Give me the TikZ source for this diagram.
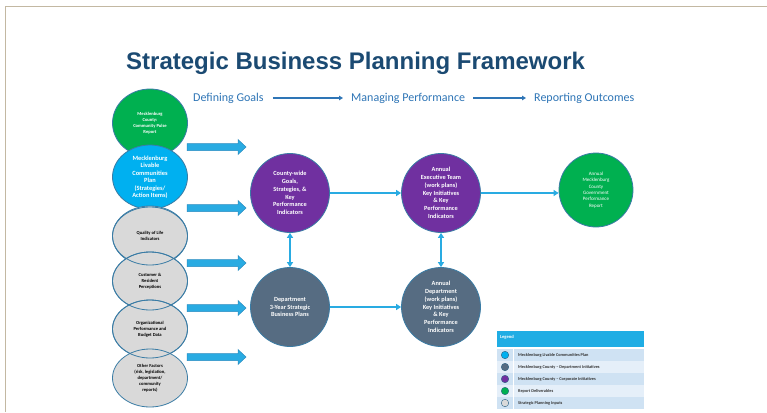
\documentclass[tikz,border=0pt]{standalone}
\usepackage{fontspec}
\setmainfont{Carlito}
\newfontfamily\titlefont{Liberation Sans}
\usetikzlibrary{arrows.meta,shapes.geometric}
\definecolor{titleblue}{HTML}{1B4A72}
\definecolor{subblue}{HTML}{2E75B6}
\definecolor{arrowblue}{HTML}{29ABE2}
\definecolor{arrowedge}{HTML}{2A8CC0}
\definecolor{cpurple}{HTML}{7030A0}
\definecolor{cslate}{HTML}{566C82}
\definecolor{cgreen}{HTML}{00B050}
\definecolor{clblue}{HTML}{00B0F0}
\definecolor{cgray}{HTML}{D9D9D9}
\definecolor{cborder}{HTML}{3A7CA5}
\definecolor{frametan}{HTML}{C3B8A2}
\definecolor{leghead}{HTML}{1FADE4}
\definecolor{legrowA}{HTML}{CFE2F3}
\definecolor{legrowB}{HTML}{E5EFF9}
\tikzset{
  circ/.style={circle, draw=cborder, line width=0.8pt, inner sep=0pt, align=center},
  oval/.style={ellipse, draw=cborder, line width=0.8pt, inner sep=0pt, align=center, minimum width=75pt},
  midcirc/.style={circ, minimum size=79pt, text=white, font=\fontsize{6.3}{7.8}\selectfont\bfseries},
  graytxt/.style={font=\fontsize{4.6}{6}\selectfont\bfseries, text=black},
  blockarrow/.style={fill=arrowblue, draw=arrowedge, line width=0.5pt, line join=miter},
  flow/.style={draw=arrowblue, line width=1.8pt, -{Triangle[length=5pt,width=6pt]}},
  flowboth/.style={draw=arrowblue, line width=1.8pt, {Triangle[length=5pt,width=6pt]}-{Triangle[length=5pt,width=6pt]}},
  subarrow/.style={draw=subblue, line width=1.8pt, -{Triangle[length=4pt,width=4.5pt]}},
  subtxt/.style={font=\fontsize{12}{13}\selectfont, text=subblue, inner sep=0pt},
  legtxt/.style={font=\fontsize{4.3}{5}\selectfont\bfseries, text=black!80, anchor=west, inner sep=0pt},
  legdot/.style={circle, draw=cborder!80!black, line width=0.4pt, minimum size=7.5pt, inner sep=0pt}
}
\begin{document}
\begin{tikzpicture}[x=1pt,y=-1pt]
\useasboundingbox (0,0) rectangle (767,412);
\fill[white] (0,0) rectangle (767,412);
% frame
\draw[frametan, line width=1.5pt] (5.5,412) -- (5.5,6.5) -- (767,6.5);
% title
\node[anchor=west, inner sep=0pt, text=titleblue, font=\titlefont\fontsize{24}{28}\selectfont\bfseries] (title) at (126,63) {Strategic Business Planning Framework};
% subtitle
\node[subtxt, anchor=west] (s1) at (193,98) {Defining Goals};
\node[subtxt, anchor=west] (s2) at (351,98) {Managing Performance};
\node[subtxt, anchor=west] (s3) at (534,98) {Reporting Outcomes};
\draw[subarrow] ([xshift=9pt]s1.east) -- ([xshift=-8pt]s2.west);
\draw[subarrow] ([xshift=8pt]s2.east) -- ([xshift=-8pt]s3.west);
% left column
\node[oval, minimum height=68pt, fill=cgreen, text=white, font=\fontsize{4.6}{6}\selectfont\bfseries] (pulse) at (150,123) {Mecklenburg\\County:\\Community Pulse\\Report};
\node[oval, minimum height=64pt, fill=clblue, text=white, font=\fontsize{6.4}{7.5}\selectfont\bfseries] (livable) at (150,177) {Mecklenburg\\Livable\\Communities\\Plan\\(Strategies/\\Action Items)};
\node[oval, minimum height=60pt, fill=cgray, graytxt] (qol) at (150,236) {Quality of Life\\Indicators};
\node[oval, minimum height=58pt, fill=cgray, graytxt] (cust) at (150,281) {Customer \&\\Resident\\Perceptions};
\node[oval, minimum height=58pt, fill=cgray, graytxt] (org) at (150,329) {Organizational\\Performance and\\Budget Data};
\node[oval, minimum height=58pt, fill=cgray, graytxt] (other) at (150,378) {Other Factors\\(risk, legislation,\\department/\\community\\reports)};
\foreach \n in {qol,cust,org} \draw[cborder, line width=0.8pt] (\n) ellipse [x radius=37.5pt, y radius=29pt];
% block arrows
\foreach \y in {147,208,263,308,357}
  \draw[blockarrow] (187,\y-3.5) -- (238,\y-3.5) -- (238,\y-7.5) -- (246,\y) -- (238,\y+7.5) -- (238,\y+3.5) -- (187,\y+3.5) -- cycle;
% middle circles
\node[midcirc, fill=cpurple] (goals) at (290,193) {County-wide\\Goals,\\Strategies, \&\\Key\\Performance\\Indicators};
\node[midcirc, fill=cpurple] (exec) at (441,193) {Annual\\Executive Team\\(work plans)\\Key Initiatives\\\& Key\\Performance\\Indicators};
\node[midcirc, fill=cslate] (dept) at (290,307) {Department\\3-Year Strategic\\Business Plans};
\node[midcirc, fill=cslate] (adept) at (441,307) {Annual\\Department\\(work plans)\\Key Initiatives\\\& Key\\Performance\\Indicators};
\node[circ, minimum size=74pt, fill=cgreen, text=white, font=\fontsize{5}{6.4}\selectfont] (report) at (596,190) {Annual\\Mecklenburg\\County\\Government\\Performance\\Report};
% connectors
\draw[flow] (goals.east) -- (goals.east -| exec.west);
\draw[flow] (exec.east) -- (exec.east -| report.west);
\draw[flow] (dept.east) -- (dept.east -| adept.west);
\draw[flowboth] (goals.south) -- (dept.north);
\draw[flowboth] (exec.south) -- (adept.north);
% legend
\node[fill=leghead, minimum width=147pt, minimum height=16pt, inner sep=0pt, anchor=north west] (lhead) at (497,331) {};
\node[anchor=west, inner sep=0pt, text=white, font=\fontsize{4.6}{5}\selectfont\bfseries] (ltitle) at (500,337) {Legend};
\foreach \i/\col/\row/\txt in {0/clblue/legrowA/Mecklenburg Livable Communities Plan,
  1/cslate/legrowB/Mecklenburg County -- Department Initiatives,
  2/cpurple/legrowA/Mecklenburg County -- Corporate Initiatives,
  3/cgreen/legrowB/Report Deliverables,
  4/cgray/legrowA/Strategic Planning Inputs} {
  \fill[\row] (497,349+12*\i) rectangle (513,360.5+12*\i);
  \fill[\row] (514,349+12*\i) rectangle (644,360.5+12*\i);
  \node[legdot, fill=\col] (ld\i) at (505,355+12*\i) {};
  \node[legtxt] (lt\i) at (518,355+12*\i) {\txt};
}
\end{tikzpicture}
\end{document}
